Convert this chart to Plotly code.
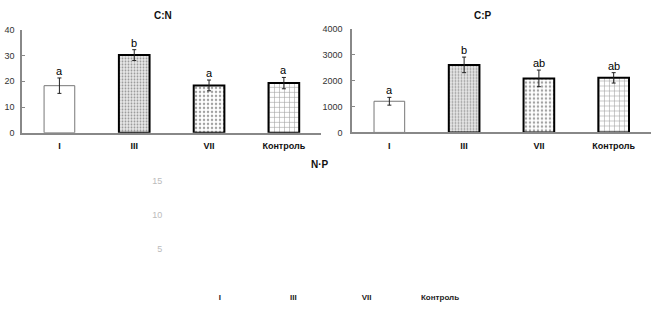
import plotly.graph_objects as go

categories = ["I", "III", "VII", "Контроль"]

cn_values = [18.3, 30.2, 18.4, 19.3]
cn_errors = [3.0, 2.1, 2.1, 2.2]
cn_letters = ["a", "b", "a", "a"]

cp_values = [1200, 2600, 2080, 2100]
cp_errors = [150, 300, 320, 200]
cp_letters = ["a", "b", "ab", "ab"]

np_ticks = [5, 10, 15]

FONT = "Liberation Sans, Arial, sans-serif"

bar_fill = ["white", "#e8e8e8", "white", "white"]
bar_line_color = ["#777777", "black", "black", "black"]
bar_line_width = [1, 2, 2, 2]
pat_shape = ["", ".", ".", "+"]
pat_fg = ["white", "#9a9a9a", "#333333", "#222222"]
pat_size = [4, 3, 4, 5]
pat_solid = [0.2, 0.3, 0.3, 0.22]

fig = go.Figure()

def add_bars(vals, errs, xa, ya):
    fig.add_trace(go.Bar(
        x=categories, y=vals, xaxis=xa, yaxis=ya, width=0.41,
        marker=dict(color=bar_fill,
                    line=dict(color=bar_line_color, width=bar_line_width),
                    pattern=dict(shape=pat_shape, fgcolor=pat_fg, bgcolor=bar_fill,
                                 size=pat_size, solidity=pat_solid)),
        error_y=dict(type="data", array=errs, visible=True, color="#222222",
                     thickness=1, width=2),
        showlegend=False, hoverinfo="skip"))

add_bars(cn_values, cn_errors, "x", "y")
add_bars(cp_values, cp_errors, "x2", "y2")

# invisible trace to establish the N:P axes
fig.add_trace(go.Scatter(x=categories, y=[None] * len(categories), xaxis="x3", yaxis="y3",
                         mode="markers", marker=dict(opacity=0), showlegend=False,
                         hoverinfo="skip"))

annotations = []
for c, v, e, t in zip(categories, cn_values, cn_errors, cn_letters):
    annotations.append(dict(x=c, y=v + e, xref="x", yref="y", text=t, showarrow=False,
                            yanchor="bottom", yshift=-1,
                            font=dict(family=FONT, size=11, color="#000000")))
for c, v, e, t in zip(categories, cp_values, cp_errors, cp_letters):
    annotations.append(dict(x=c, y=v + e, xref="x2", yref="y2", text=t, showarrow=False,
                            yanchor="bottom", yshift=-1,
                            font=dict(family=FONT, size=11, color="#000000")))

titles = [("C:N", 0.25, 0.99), ("C:P", 0.74, 0.99), ("N·P", 0.49, 0.49)]
for t, x, y in titles:
    annotations.append(dict(x=x, y=y, xref="paper", yref="paper", text="<b>%s</b>" % t,
                            showarrow=False, xanchor="center", yanchor="top",
                            font=dict(family=FONT, size=10, color="#111")))

axis_common = dict(showgrid=False, zeroline=False, showline=True, linecolor="#888888",
                   linewidth=1.5)

fig.update_layout(
    width=653, height=309, margin=dict(l=0, r=0, t=0, b=0),
    plot_bgcolor="white", paper_bgcolor="white", bargap=0.6,
    font=dict(family=FONT, size=9, color="#333"),
    annotations=annotations,
    xaxis=dict(domain=[0.0337, 0.492], anchor="y", ticks="", **axis_common,
               tickfont=dict(family=FONT, size=9, color="#111", weight="bold"),
               ticklabelstandoff=4),
    yaxis=dict(domain=[0.5728, 0.9168], anchor="x", range=[0, 40], tickvals=[0, 10, 20, 30, 40],
               ticks="inside", ticklen=3, tickcolor="#888", **axis_common,
               tickfont=dict(family=FONT, size=9, color="#333"), ticklabelstandoff=4),
    xaxis2=dict(domain=[0.539, 0.997], anchor="y2", ticks="", **axis_common,
                tickfont=dict(family=FONT, size=9, color="#111", weight="bold"),
                ticklabelstandoff=4),
    yaxis2=dict(domain=[0.5738, 0.9214], anchor="x2", range=[0, 4000],
                tickvals=[0, 1000, 2000, 3000, 4000],
                ticks="inside", ticklen=3, tickcolor="#888", **axis_common,
                tickfont=dict(family=FONT, size=9, color="#333"), ticklabelstandoff=6),
    xaxis3=dict(domain=[0.2807, 0.730], anchor="y3", range=[-0.5, 3.5], ticks="",
                showline=False, showgrid=False, zeroline=False,
                tickfont=dict(family=FONT, size=8, color="#222", weight="bold"),
                ticklabelstandoff=8),
    yaxis3=dict(domain=[0.0712, 0.411], anchor="x3", range=[0, 15], tickvals=np_ticks,
                showline=False, showgrid=False, zeroline=False, ticks="",
                tickfont=dict(family=FONT, size=9, color="#bbbbbb"), ticklabelstandoff=20),
)

fig.write_html("out.html", config={"displayModeBar": False},
               post_script="document.body.style.margin='0';")
